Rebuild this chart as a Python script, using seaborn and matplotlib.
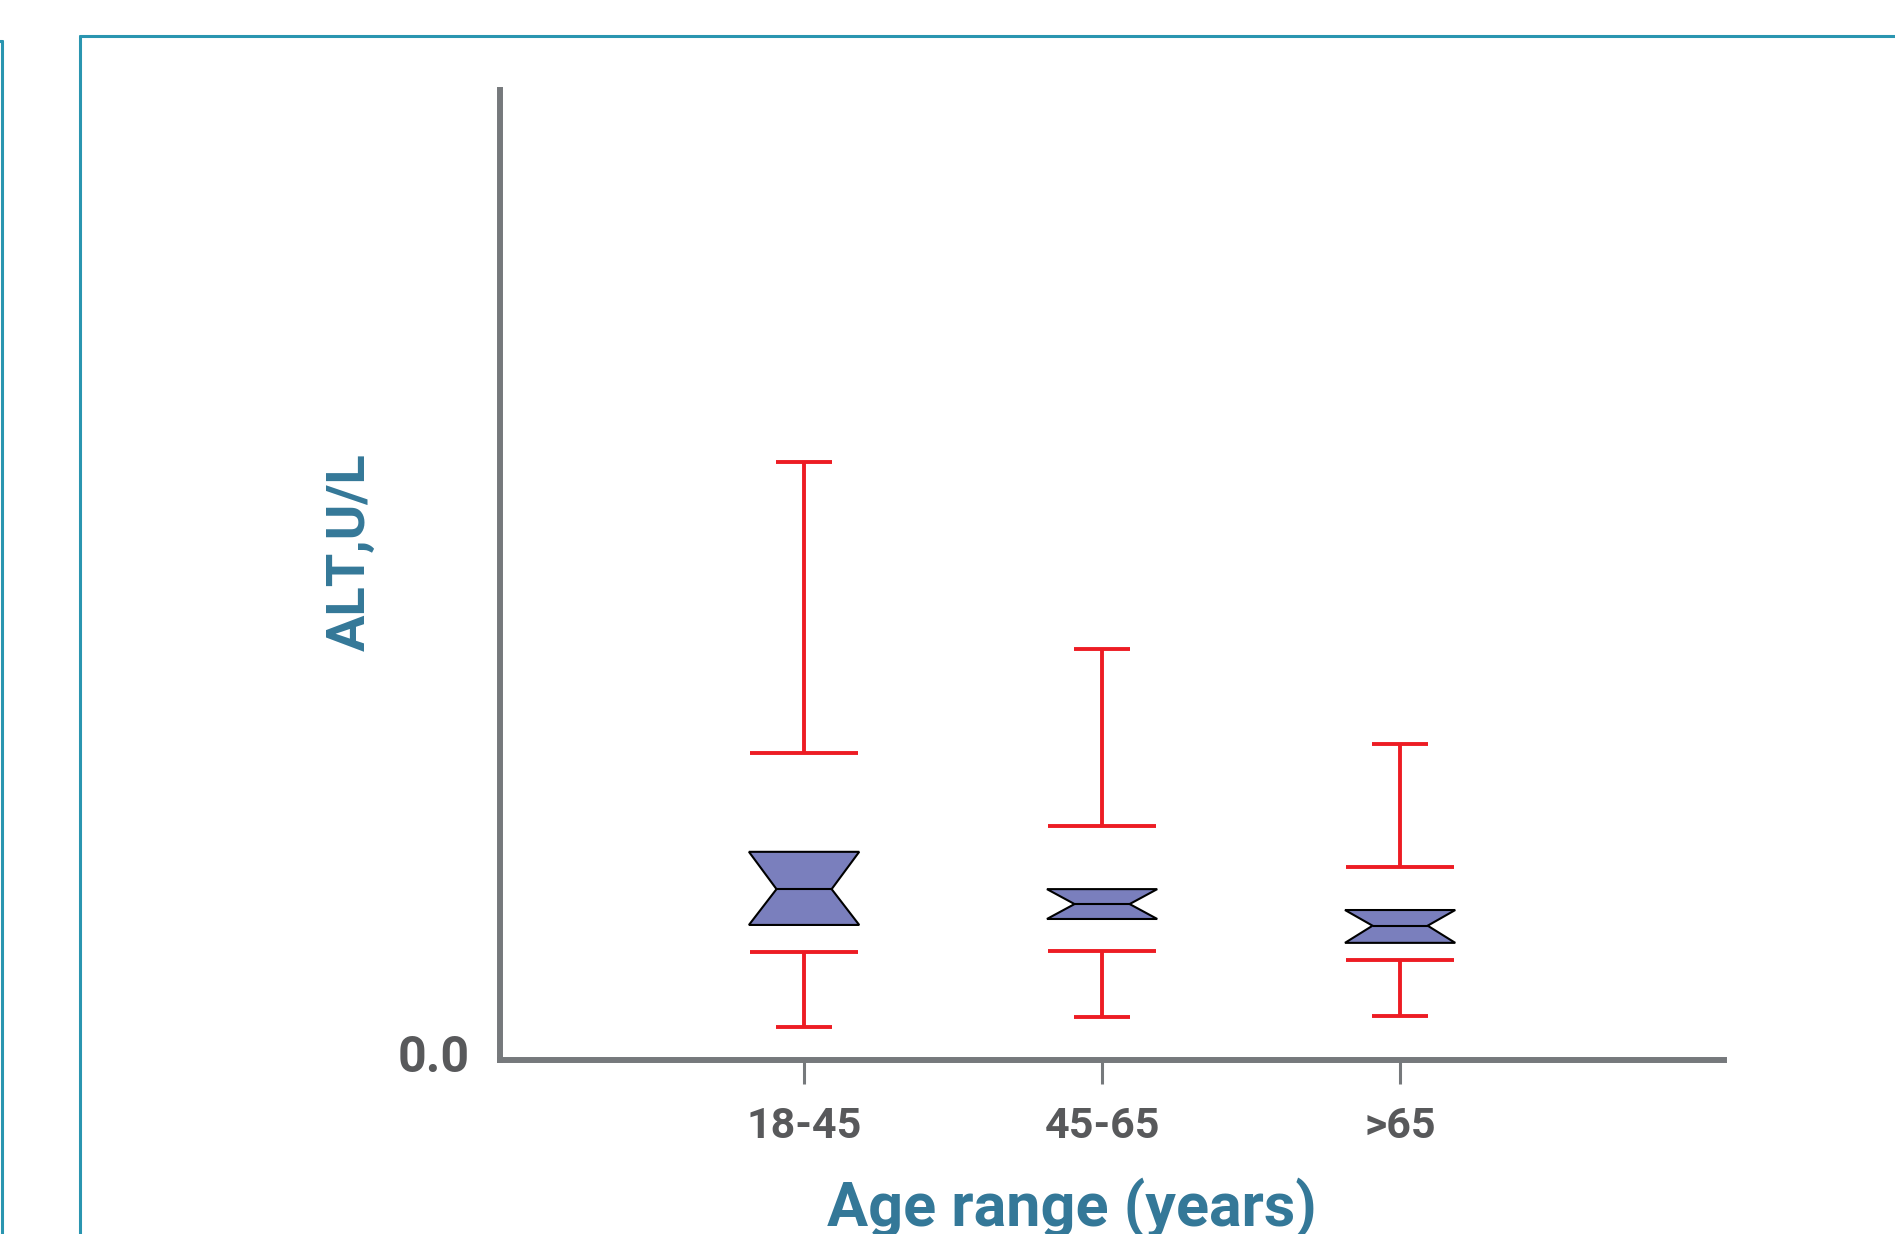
import numpy as np
import pandas as pd
import seaborn as sns
import matplotlib.pyplot as plt
from matplotlib.lines import Line2D
from matplotlib.transforms import ScaledTranslation

# values (ALT, U/L)
ages = ['18-45', '45-65', '>65']
q1 = [18.1, 18.9, 15.7]
med = [22.9, 20.9, 18.0]
q3 = [27.9, 22.9, 20.1]
upper_in = [41.2, 31.3, 25.8]
upper_top = [80.2, 55.1, 42.4]
lower_in = [14.5, 14.6, 13.4]
lower_bot = [4.4, 5.8, 5.9]

df = pd.DataFrame({'age': ages, 'q1': q1, 'med': med, 'q3': q3,
                   'upper_in': upper_in, 'upper_top': upper_top,
                   'lower_in': lower_in, 'lower_bot': lower_bot})

sns.set_theme(style='white')
plt.rcParams['font.family'] = ['Roboto', 'DejaVu Sans']
plt.rcParams['font.weight'] = 'bold'

blue = '#347898'
gray = '#76797c'
red = '#ed1c24'
teal = '#2a95b0'

fig = plt.figure(figsize=(18.95, 12.34), dpi=100)
ax = fig.add_axes([0.2639, 0.1410, 0.6459, 0.7861])

pos = np.arange(len(df))

# notched boxes, notch limits at the quartiles
stats = []
for _, r in df.iterrows():
    stats.append({'med': r['med'], 'q1': r['q1'], 'q3': r['q3'],
                  'cilo': r['q1'], 'cihi': r['q3'],
                  'whislo': r['q1'], 'whishi': r['q3'], 'fliers': []})

ax.bxp(stats, positions=pos, widths=0.37, capwidths=0.222,
       patch_artist=True, shownotches=True, showcaps=False, showfliers=False,
       boxprops=dict(facecolor='#7a7fbd', edgecolor='black', linewidth=1.5),
       medianprops=dict(color='black', linewidth=1.5),
       whiskerprops=dict(linestyle='none'), manage_ticks=False)

# detached whiskers: wide cap near the box, short cap at the end
wide = 0.36
short = 0.188
lw = 2.8
ax.vlines(pos, df['upper_in'], df['upper_top'], color=red, lw=lw)
ax.vlines(pos, df['lower_bot'], df['lower_in'], color=red, lw=lw)
ax.hlines(df['upper_top'], pos - short / 2, pos + short / 2, color=red, lw=lw)
ax.hlines(df['lower_bot'], pos - short / 2, pos + short / 2, color=red, lw=lw)
ax.hlines(df['upper_in'], pos - wide / 2, pos + wide / 2, color=red, lw=lw)
ax.hlines(df['lower_in'], pos - wide / 2, pos + wide / 2, color=red, lw=lw)

ax.set_xlim(-1.02, 3.087)
ax.set_ylim(0, 130)
ax.set_xticks(pos, ages)
ax.set_yticks([0], ['0.0'])

sns.despine(ax=ax)
for s in ['left', 'bottom']:
    ax.spines[s].set_linewidth(4.3)
    ax.spines[s].set_color(gray)

ax.tick_params(axis='x', length=17, width=2.2, color=gray, pad=16,
               labelsize=31, labelcolor='#58595b', bottom=True)
ax.tick_params(axis='y', length=0, pad=22, labelsize=36, labelcolor='#58595b')

# lift the 0.0 label a little
for lab in ax.get_yticklabels():
    lab.set_transform(lab.get_transform() + ScaledTranslation(0, 0.07, fig.dpi_scale_trans))

ax.set_xlabel('Age range (years)', fontsize=44, color=blue, fontweight='bold',
              va='baseline')
ax.xaxis.set_label_coords(1072 / 1895, 8 / 1234, transform=fig.transFigure)
ax.set_ylabel('ALT,U/L', fontsize=39, color=blue, fontweight='bold', va='center')
ax.yaxis.set_label_coords(350 / 1895, 1 - 552 / 1234, transform=fig.transFigure)

# panel frames
W, H = 1895, 1234
def fline(xs, ys):
    fig.add_artist(Line2D([x / W for x in xs], [1 - y / H for y in ys],
                          transform=fig.transFigure, color=teal, lw=2.2))

fline([80, 1900], [36, 36])
fline([80, 80], [36, 1240])
fline([-5, 2], [41, 41])
fline([2, 2], [41, 1240])

fig.savefig('out.png', dpi=100)
